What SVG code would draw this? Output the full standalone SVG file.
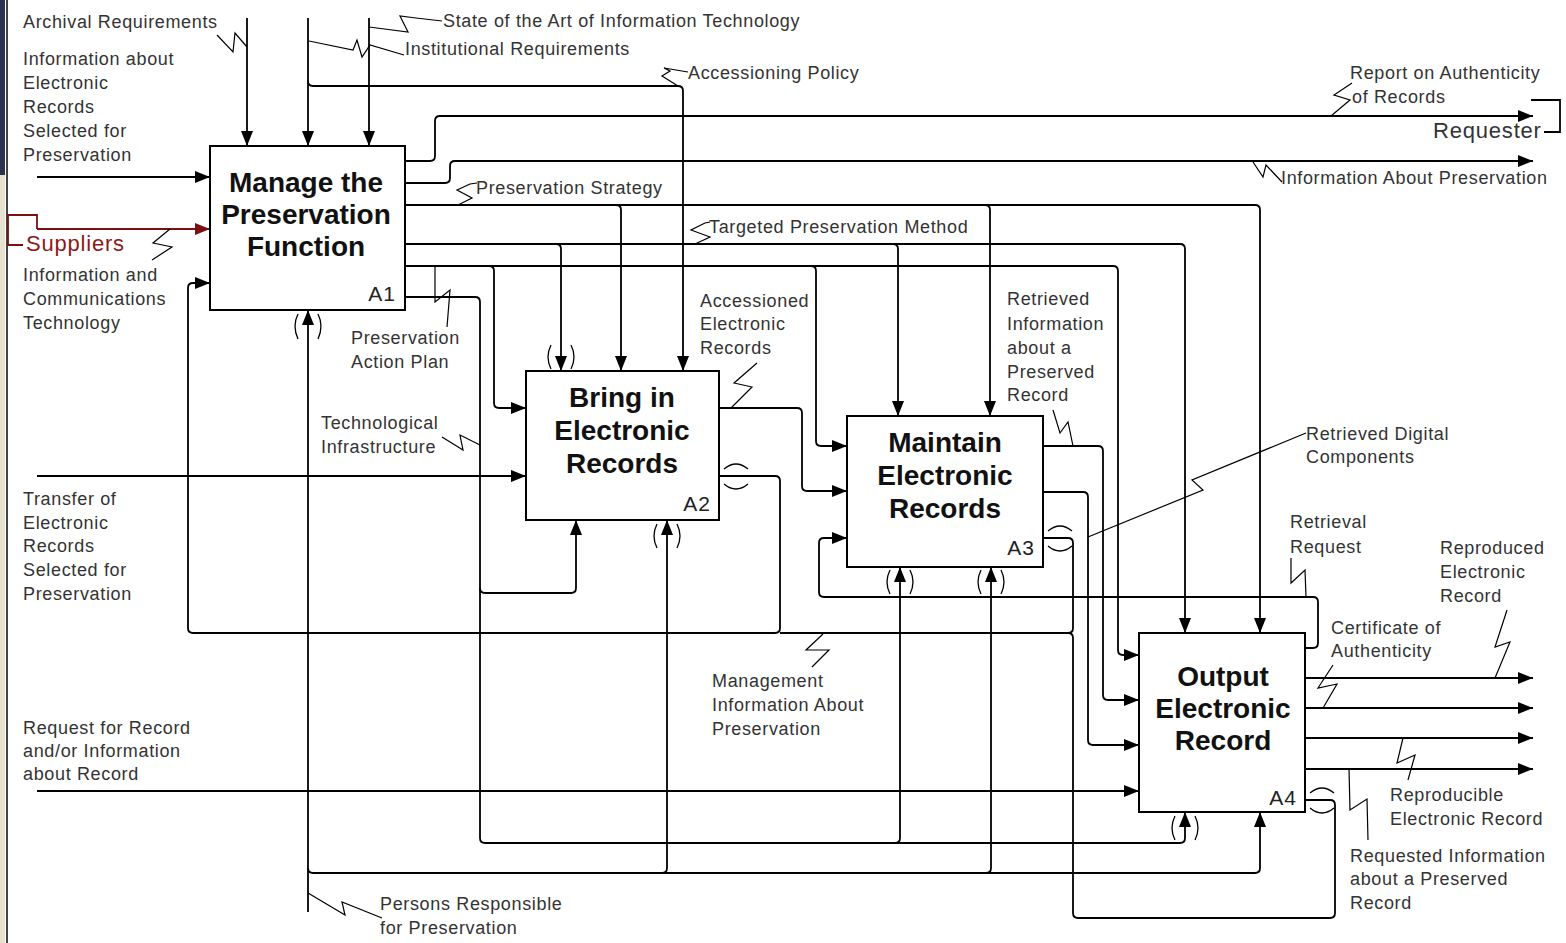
<svg xmlns="http://www.w3.org/2000/svg" width="1566" height="943" viewBox="0 0 1566 943">
  <defs>
    <marker id="ah" markerUnits="userSpaceOnUse" markerWidth="15" markerHeight="12" refX="15" refY="6" orient="auto">
      <path d="M0,0 L15,6 L0,12 Z" fill="#000"/>
    </marker>
    <marker id="ahr" markerUnits="userSpaceOnUse" markerWidth="15" markerHeight="12" refX="15" refY="6" orient="auto">
      <path d="M0,0 L15,6 L0,12 Z" fill="#7a1010"/>
    </marker>
    <style>
      .ln{fill:none;stroke:#000;stroke-width:1.8}
      .ar{marker-end:url(#ah)}
      .sq{fill:none;stroke:#000;stroke-width:1.2}
      .tn{fill:none;stroke:#000;stroke-width:1.3}
      .box{fill:#fff;stroke:#000;stroke-width:2}
      .t{font-family:"Liberation Sans",Arial,sans-serif;font-size:18px;letter-spacing:0.65px;fill:#333}
      .big{font-family:"Liberation Sans",Arial,sans-serif;font-size:22px;letter-spacing:0.8px;fill:#333}
      .title{font-family:"Liberation Sans",Arial,sans-serif;font-size:28px;font-weight:bold;text-anchor:middle;fill:#111}
      .num{font-family:"Liberation Sans",Arial,sans-serif;font-size:21px;letter-spacing:1px;text-anchor:end;fill:#222}
    </style>
  </defs>

  <rect width="1566" height="943" fill="#fff"/>
  <!-- page edge -->
  <rect x="0" y="0" width="5" height="175" fill="#2b3350"/>
  <rect x="0" y="175" width="5" height="768" fill="#e6e2cf"/>
  <line x1="7" y1="0" x2="7" y2="943" stroke="#444" stroke-width="2"/>

  <g id="connectors">
    <!-- controls into A1 -->
    <path class="ln ar" d="M247,18 V146"/>
    <path class="ln ar" d="M308,18 V146"/>
    <path class="ln ar" d="M369,18 V146"/>
    <!-- accessioning policy -->
    <path class="ln ar" d="M308,81 Q308,86 313,86 H678 Q683,86 683,91 V371"/>

    <!-- inputs from the left -->
    <path class="ln ar" d="M37,177 H210"/>
    <path fill="none" stroke="#7a1010" stroke-width="1.8" d="M23,245 H8 V215 H37 V229"/>
    <path fill="none" stroke="#7a1010" stroke-width="1.8" marker-end="url(#ahr)" d="M37,229 H210"/>
    <path class="ln ar" d="M37,476 H526"/>
    <path class="ln ar" d="M37,791 H1139"/>

    <!-- A1 outputs -->
    <path class="ln ar" d="M405,161 H430 Q435,161 435,156 V121 Q435,116 440,116 H1533"/>
    <path fill="none" stroke="#000" stroke-width="1.8" d="M1531,100 H1560 V132 H1544"/>
    <path class="ln ar" d="M405,183 H445 Q450,183 450,178 V166 Q450,161 455,161 H1533"/>
    <!-- preservation strategy -->
    <path class="ln ar" d="M405,205 H1255 Q1260,205 1260,210 V633"/>
    <path class="ln ar" d="M616,205 Q621,205 621,210 V371"/>
    <path class="ln ar" d="M985,205 Q990,205 990,210 V416"/>
    <!-- targeted preservation method -->
    <path class="ln ar" d="M405,244 H1180 Q1185,244 1185,249 V633"/>
    <path class="ln ar" d="M556,244 Q561,244 561,249 V371"/>
    <path class="ln ar" d="M893,244 Q898,244 898,249 V416"/>
    <!-- preservation action plan -->
    <path class="ln ar" d="M405,266 H1113 Q1118,266 1118,271 V650 Q1118,655 1123,655 H1139"/>
    <path class="ln ar" d="M489,266 Q494,266 494,271 V403 Q494,408 499,408 H526"/>
    <path class="ln ar" d="M811,266 Q816,266 816,271 V441 Q816,446 821,446 H847"/>
    <!-- technological infrastructure -->
    <path class="ln ar" d="M405,297 H475 Q480,297 480,302 V838 Q480,843 485,843 H1180 Q1185,843 1185,838 V812"/>
    <path class="ln ar" d="M480,588 Q480,593 485,593 H571 Q576,593 576,588 V520"/>
    <path class="ln ar" d="M895,843 Q900,843 900,838 V567"/>

    <!-- management information feedback -->
    <path class="ln ar" d="M719,476 H775 Q780,476 780,481 V628 Q780,633 775,633 H193 Q188,633 188,628 V288 Q188,283 193,283 H210"/>
    <path class="ln" d="M1043,538 H1068 Q1073,538 1073,543 V628 Q1073,633 1068,633 H780"/>
    <path class="ln" d="M1305,800 H1330 Q1335,800 1335,805 V913 Q1335,918 1330,918 H1078 Q1073,918 1073,913 V638 Q1073,633 1068,633"/>

    <!-- A2 / A3 outputs -->
    <path class="ln ar" d="M719,408 H797 Q802,408 802,413 V486 Q802,491 807,491 H847"/>
    <path class="ln ar" d="M1043,446 H1098 Q1103,446 1103,451 V695 Q1103,700 1108,700 H1139"/>
    <path class="ln ar" d="M1043,492 H1083 Q1088,492 1088,497 V740 Q1088,745 1093,745 H1139"/>

    <!-- A4 outputs -->
    <path class="ln ar" d="M1305,648 H1313 Q1318,648 1318,643 V602 Q1318,597 1313,597 H824 Q819,597 819,592 V543 Q819,538 824,538 H847"/>
    <path class="ln ar" d="M1305,678 H1533"/>
    <path class="ln ar" d="M1305,708 H1533"/>
    <path class="ln ar" d="M1305,738 H1533"/>
    <path class="ln ar" d="M1305,769 H1533"/>

    <!-- persons responsible -->
    <path class="ln ar" d="M308,912 V310"/>
    <path class="ln ar" d="M308,868 Q308,873 313,873 H1255 Q1260,873 1260,868 V812"/>
    <path class="ln ar" d="M662,873 Q667,873 667,868 V520"/>
    <path class="ln ar" d="M986,873 Q991,873 991,868 V567"/>

    <!-- tunnels -->
    <path class="tn" d="M298,314 Q292,326 298,339 M318,314 Q324,326 318,339"/>
    <path class="tn" d="M551,345 Q545,357 551,369 M571,345 Q577,357 571,369"/>
    <path class="tn" d="M657,524 Q651,536 657,548 M677,524 Q683,536 677,548"/>
    <path class="tn" d="M890,570 Q884,582 890,594 M910,570 Q916,582 910,594"/>
    <path class="tn" d="M981,570 Q975,582 981,594 M1001,570 Q1007,582 1001,594"/>
    <path class="tn" d="M1175,816 Q1169,828 1175,840 M1195,816 Q1201,828 1195,840"/>
    <path class="tn" d="M724,469 Q736,459 748,469 M724,484 Q736,494 748,484"/>
    <path class="tn" d="M1048,531 Q1060,521 1072,531 M1048,546 Q1060,556 1072,546"/>
    <path class="tn" d="M1310,793 Q1322,783 1334,793 M1310,808 Q1322,818 1334,808"/>

    <!-- label squiggles -->
    <polyline class="sq" points="217,35 233,52 235,33 247,47"/>
    <polyline class="sq" points="309,41 353,50 357,40 362,57 370,45 404,55"/>
    <polyline class="sq" points="369,27 408,32 400,16 416,18 442,21"/>
    <polyline class="sq" points="678,86 662,76 670,71 664,68 688,72"/>
    <polyline class="sq" points="1331,116 1350,100 1334,95 1352,83"/>
    <polyline class="sq" points="1253,162 1263,177 1266,165 1282,182"/>
    <polyline class="sq" points="458,205 472,198 457,190 470,184 477,183"/>
    <polyline class="sq" points="695,244 710,237 691,230 705,223 710,222"/>
    <polyline class="sq" points="170,229 153,243 172,247 152,260"/>
    <polyline class="sq" points="435,266 435,302 450,290 447,327"/>
    <polyline class="sq" points="480,445 460,435 463,450 442,437"/>
    <polyline class="sq" points="731,408 752,387 734,383 757,363"/>
    <polyline class="sq" points="1073,446 1068,422 1060,433 1053,410"/>
    <polyline class="sq" points="1088,537 1203,490 1192,480 1306,433"/>
    <polyline class="sq" points="1306,597 1305,570 1291,583 1291,558"/>
    <polyline class="sq" points="1495,678 1510,642 1495,647 1507,610"/>
    <polyline class="sq" points="1323,708 1337,684 1318,688 1333,665"/>
    <polyline class="sq" points="1403,738 1397,763 1415,755 1408,780"/>
    <polyline class="sq" points="1349,769 1350,810 1367,799 1368,840"/>
    <polyline class="sq" points="823,634 806,650 829,650 812,667"/>
    <polyline class="sq" points="308,893 345,915 342,902 382,918"/>
  </g>

  <g id="a1">
    <rect class="box" x="210" y="146" width="195" height="164"/>
    <text class="title"><tspan x="306" y="192">Manage the</tspan><tspan x="306" y="224">Preservation</tspan><tspan x="306" y="256">Function</tspan></text>
    <text class="num" x="396" y="301">A1</text>
  </g>
  <g id="a2">
    <rect class="box" x="526" y="371" width="193" height="149"/>
    <text class="title"><tspan x="622" y="407">Bring in</tspan><tspan x="622" y="440">Electronic</tspan><tspan x="622" y="473">Records</tspan></text>
    <text class="num" x="711" y="511">A2</text>
  </g>
  <g id="a3">
    <rect class="box" x="847" y="416" width="196" height="151"/>
    <text class="title"><tspan x="945" y="452">Maintain</tspan><tspan x="945" y="485">Electronic</tspan><tspan x="945" y="518">Records</tspan></text>
    <text class="num" x="1035" y="555">A3</text>
  </g>
  <g id="a4">
    <rect class="box" x="1139" y="633" width="166" height="179"/>
    <text class="title"><tspan x="1223" y="686">Output</tspan><tspan x="1223" y="718">Electronic</tspan><tspan x="1223" y="750">Record</tspan></text>
    <text class="num" x="1297" y="805">A4</text>
  </g>

  <g id="labels">
    <text class="t" x="23" y="28">Archival Requirements</text>
    <text class="t"><tspan x="23" y="65">Information about</tspan><tspan x="23" y="89">Electronic</tspan><tspan x="23" y="113">Records</tspan><tspan x="23" y="137">Selected for</tspan><tspan x="23" y="161">Preservation</tspan></text>
    <text class="t" x="443" y="27">State of the Art of Information Technology</text>
    <text class="t" x="405" y="55">Institutional Requirements</text>
    <text class="t" x="688" y="79">Accessioning Policy</text>
    <text class="t"><tspan x="1350" y="79">Report on Authenticity</tspan><tspan x="1352" y="103">of Records</tspan></text>
    <text class="big" x="1433" y="138">Requester</text>
    <text class="t" x="1281" y="184">Information About Preservation</text>
    <text class="t" x="476" y="194">Preservation Strategy</text>
    <text class="t" x="709" y="233">Targeted Preservation Method</text>
    <text class="big" x="26" y="251" style="fill:#8b1a1a">Suppliers</text>
    <text class="t"><tspan x="23" y="281">Information and</tspan><tspan x="23" y="305">Communications</tspan><tspan x="23" y="329">Technology</tspan></text>
    <text class="t"><tspan x="351" y="344">Preservation</tspan><tspan x="351" y="368">Action Plan</tspan></text>
    <text class="t"><tspan x="700" y="307">Accessioned</tspan><tspan x="700" y="330">Electronic</tspan><tspan x="700" y="354">Records</tspan></text>
    <text class="t"><tspan x="1007" y="305">Retrieved</tspan><tspan x="1007" y="330">Information</tspan><tspan x="1007" y="354">about a</tspan><tspan x="1007" y="378">Preserved</tspan><tspan x="1007" y="401">Record</tspan></text>
    <text class="t"><tspan x="321" y="429">Technological</tspan><tspan x="321" y="453">Infrastructure</tspan></text>
    <text class="t"><tspan x="1306" y="440">Retrieved Digital</tspan><tspan x="1306" y="463">Components</tspan></text>
    <text class="t"><tspan x="23" y="505">Transfer of</tspan><tspan x="23" y="529">Electronic</tspan><tspan x="23" y="552">Records</tspan><tspan x="23" y="576">Selected for</tspan><tspan x="23" y="600">Preservation</tspan></text>
    <text class="t"><tspan x="1290" y="528">Retrieval</tspan><tspan x="1290" y="553">Request</tspan></text>
    <text class="t"><tspan x="1440" y="554">Reproduced</tspan><tspan x="1440" y="578">Electronic</tspan><tspan x="1440" y="602">Record</tspan></text>
    <text class="t"><tspan x="1331" y="634">Certificate of</tspan><tspan x="1331" y="657">Authenticity</tspan></text>
    <text class="t"><tspan x="712" y="687">Management</tspan><tspan x="712" y="711">Information About</tspan><tspan x="712" y="735">Preservation</tspan></text>
    <text class="t"><tspan x="23" y="734">Request for Record</tspan><tspan x="23" y="757">and/or Information</tspan><tspan x="23" y="780">about Record</tspan></text>
    <text class="t"><tspan x="1390" y="801">Reproducible</tspan><tspan x="1390" y="825">Electronic Record</tspan></text>
    <text class="t"><tspan x="1350" y="862">Requested Information</tspan><tspan x="1350" y="885">about a Preserved</tspan><tspan x="1350" y="909">Record</tspan></text>
    <text class="t"><tspan x="380" y="910">Persons Responsible</tspan><tspan x="380" y="934">for Preservation</tspan></text>
  </g>
</svg>
